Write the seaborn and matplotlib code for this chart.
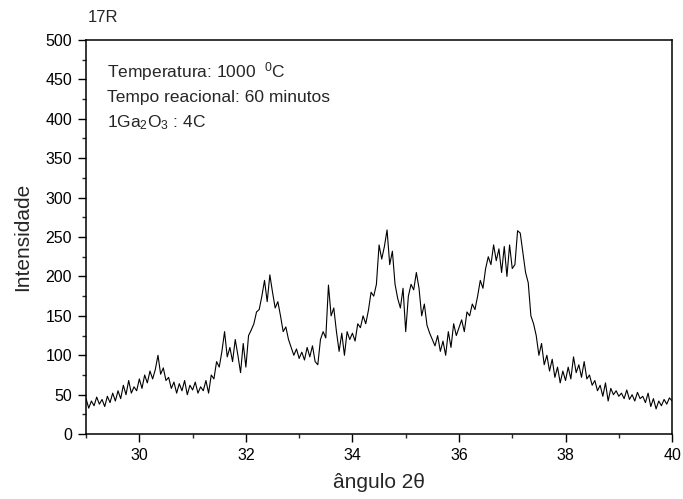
import numpy as np
import pandas as pd
import matplotlib
matplotlib.use("Agg")
import matplotlib.pyplot as plt
from matplotlib.ticker import MultipleLocator
import seaborn as sns

# ---- data ----
angle_start = 29.0
angle_step = 0.05
intensity = [
    45, 33, 42, 36, 47, 38, 44, 35, 48, 40, 52,            # 29.00-29.50
    42, 55, 45, 62, 50, 68, 52, 60, 55, 70,                # 29.55-30.00
    58, 75, 65, 80, 70, 82, 100, 76, 84, 68,               # 30.05-30.50
    72, 58, 66, 52, 64, 55, 68, 50, 62, 56,                # 30.55-31.00
    66, 52, 60, 55, 68, 52, 75, 70, 92, 85,                # 31.05-31.50
    105, 130, 98, 110, 92, 120, 100, 78, 115, 85,          # 31.55-32.00
    125, 132, 140, 155, 158, 175, 195, 168, 202, 180,      # 32.05-32.50
    160, 168, 150, 130, 136, 120, 110, 100, 108, 96,       # 32.55-33.00
    104, 94, 110, 98, 112, 92, 88, 120, 130, 122,          # 33.05-33.50
    189, 150, 160, 130, 105, 128, 100, 130, 120, 128,      # 33.55-34.00
    118, 140, 135, 150, 140, 157, 180, 175, 190, 240,      # 34.05-34.50
    222, 238, 259, 215, 232, 190, 172, 160, 185, 130,      # 34.55-35.00
    175, 190, 183, 205, 185, 150, 165, 138, 128, 120,      # 35.05-35.50
    112, 125, 105, 118, 100, 130, 110, 140, 125, 135,      # 35.55-36.00
    145, 130, 155, 150, 165, 158, 175, 195, 185, 210,      # 36.05-36.50
    225, 215, 240, 220, 235, 205, 238, 200, 240, 210,      # 36.55-37.00
    215, 258, 255, 230, 205, 192, 150, 140, 125, 100,      # 37.05-37.50
    115, 88, 100, 80, 95, 72, 85, 65, 80, 68,              # 37.55-38.00
    85, 70, 98, 78, 88, 72, 92, 70, 75, 62,                # 38.05-38.50
    68, 55, 62, 48, 65, 42, 58, 50, 55, 48,                # 38.55-39.00
    52, 45, 56, 44, 50, 42, 53, 45, 48, 40,                # 39.05-39.50
    52, 35, 45, 32, 42, 36, 44, 38, 46, 42,                # 39.55-40.00
]
angle = [round(angle_start + i * angle_step, 2) for i in range(len(intensity))]

title_text = "17R"
notes = ["Temperatura: 1000  $^0$C",
         "Tempo reacional: 60 minutos",
         "1Ga$_2$O$_3$ : 4C"]
x_label = "ângulo 2θ"
y_label = "Intensidade"

df = pd.DataFrame({"angle": angle, "intensity": intensity})

# ---- style ----
sns.set_style("ticks")
plt.rcParams["font.family"] = ["Liberation Sans", "DejaVu Sans"]
plt.rcParams["mathtext.fontset"] = "custom"
plt.rcParams["mathtext.rm"] = "Liberation Sans"
plt.rcParams["mathtext.it"] = "Liberation Sans"
plt.rcParams["mathtext.bf"] = "Liberation Sans:bold"

fig = plt.figure(figsize=(6.83, 4.99), dpi=100)
ax = fig.add_axes([0.126, 0.130, 0.858, 0.790])

sns.lineplot(data=df, x="angle", y="intensity", ax=ax, color="black",
             linewidth=0.8, estimator=None)

ax.set_xlim(29, 40)
ax.set_ylim(0, 500)
ax.xaxis.set_major_locator(MultipleLocator(2))
ax.xaxis.set_minor_locator(MultipleLocator(1))
ax.yaxis.set_major_locator(MultipleLocator(50))
ax.yaxis.set_minor_locator(MultipleLocator(25))
ax.tick_params(which="major", direction="out", length=6, width=1,
               labelsize=11.5, colors="black", pad=4)
ax.tick_params(which="minor", direction="out", length=3, width=1)
for sp in ax.spines.values():
    sp.set_linewidth(1.1)
    sp.set_color("black")

ax.set_xlabel(x_label, fontsize=15)
ax.set_ylabel(y_label, fontsize=15)
ax.xaxis.set_label_coords(0.5, -0.098)
ax.yaxis.set_label_coords(-0.092, 0.5)

for i, t in enumerate(notes):
    ax.text(0.036, 0.919 - i * 0.064, t, transform=ax.transAxes,
            fontsize=12.5, va="center", ha="left")

fig.text(0.129, 0.964, title_text, fontsize=12, va="center", ha="left")

fig.savefig("out.png", dpi=100)
